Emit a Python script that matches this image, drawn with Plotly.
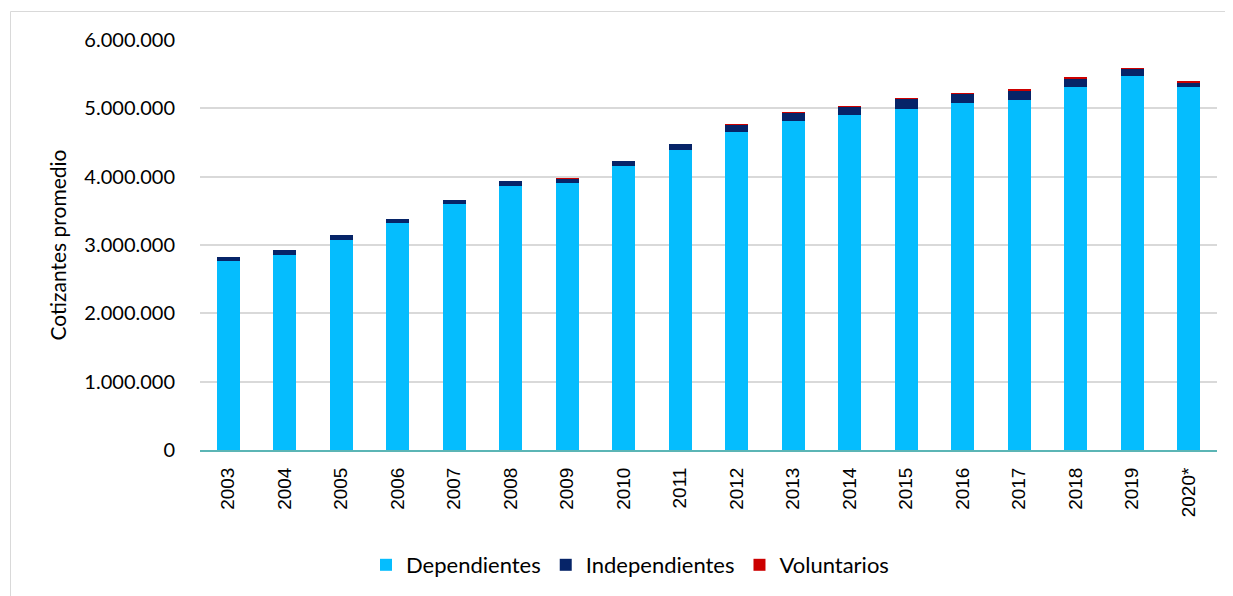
import plotly.graph_objects as go

years = ["2003", "2004", "2005", "2006", "2007", "2008", "2009", "2010", "2011",
         "2012", "2013", "2014", "2015", "2016", "2017", "2018", "2019", "2020*"]
dependientes = [2762000, 2858000, 3078000, 3317000, 3595000, 3859000, 3907000, 4152000, 4390000,
                4659000, 4810000, 4898000, 4990000, 5078000, 5127000, 5312000, 5473000, 5317000]
independientes = [64000, 67000, 62000, 62000, 66000, 71000, 65000, 75000, 95000,
                  108000, 134000, 131000, 153000, 139000, 139000, 130000, 113000, 68000]
voluntarios = [0, 0, 0, 0, 0, 0, 3000, 0, 0,
               3000, 2000, 5000, 3000, 2000, 6000, 2000, 4000, 1000]
y_ticks = [0, 1000000, 2000000, 3000000, 4000000, 5000000, 6000000]

fig = go.Figure()
fig.add_bar(x=years, y=dependientes, name="Dependientes", marker_color="#05BDFE",
            marker_line_width=0)
fig.add_bar(x=years, y=independientes, name="Independientes", marker_color="#062468",
            marker_line_width=0)
fig.add_bar(x=years, y=voluntarios, name="Voluntarios", marker_color="#CC0000",
            marker_line_width=0)

# page body has an 8px margin, so the figure is drawn 8px smaller/offset
OFF = 8
W, H = 1233 - OFF, 596 - OFF
L, R, T, B = 200 - OFF, 16, 40 - OFF, 146
pw, ph = W - L - R, H - T - B

fig.update_layout(
    barmode="stack",
    bargap=0.6,
    width=W, height=H,
    margin=dict(l=L, r=R, t=T, b=B, autoexpand=False),
    paper_bgcolor="white",
    plot_bgcolor="white",
    separators=",.",
    font=dict(family="Lato, Liberation Sans, sans-serif", color="#000000"),
    legend=dict(orientation="h", x=(630 - OFF - L) / pw, xanchor="center",
                y=-(565 - OFF - (T + ph)) / ph, yanchor="middle",
                font=dict(size=22, family="Lato, sans-serif"),
                itemwidth=30, traceorder="normal", tracegroupgap=0),
    showlegend=True,
    shapes=[dict(type="rect", xref="paper", yref="paper",
                 x0=(10.5 - OFF - L) / pw, x1=1.1, y0=-0.5, y1=1 + (T - (11.5 - OFF)) / ph,
                 line=dict(color="#d9d9d9", width=1), layer="below")],
)
fig.update_xaxes(
    type="category",
    tickangle=-90,
    tickfont=dict(family="Liberation Sans, Arial, sans-serif", size=19),
    showline=True, linecolor="#5BB5B5", linewidth=2,
    ticks="", showgrid=False, ticklabelstandoff=8,
)
fig.update_yaxes(
    range=[0, 6000000],
    tickvals=y_ticks,
    tickformat=",d",
    tickfont=dict(family="Lato, sans-serif", size=20),
    showgrid=True, gridcolor="#d9d9d9", gridwidth=1.5,
    zeroline=False, showline=False, ticks="",
    ticklabelstandoff=24,
    title=dict(text="Cotizantes promedio", font=dict(family="Lato, sans-serif", size=21),
               standoff=12),
)

fig.write_html("out.html")
